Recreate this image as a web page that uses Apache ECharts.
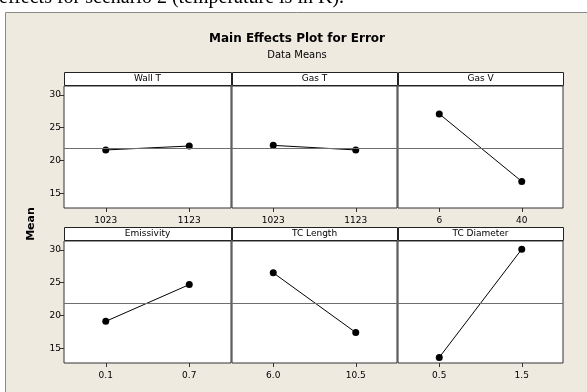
<!DOCTYPE html>
<html>
<head>
<meta charset="utf-8">
<script src="https://cdn.jsdelivr.net/npm/echarts@6/dist/echarts.min.js"></script>
<style>
  html, body { margin: 0; padding: 0; background: #ffffff; }
  #chart { width: 587px; height: 392px; }
</style>
</head>
<body>
<div id="chart"></div>
<script>
// Factor names, their two levels, and the mean Error at each level
const factors = ['Wall T', 'Gas T', 'Gas V', 'Emissivity', 'TC Length', 'TC Diameter'];
const wallTLevels = ['1023', '1123'];
const wallTMeans = [21.6, 22.2];
const gasTLevels = ['1023', '1123'];
const gasTMeans = [22.3, 21.6];
const gasVLevels = ['6', '40'];
const gasVMeans = [27.1, 16.8];
const emissivityLevels = ['0.1', '0.7'];
const emissivityMeans = [19.1, 24.7];
const tcLengthLevels = ['6.0', '10.5'];
const tcLengthMeans = [26.5, 17.4];
const tcDiameterLevels = ['0.5', '1.5'];
const tcDiameterMeans = [13.6, 30.1];
const grandMean = 21.9;
const yTicks = [15, 20, 25, 30];

const levels = [wallTLevels, gasTLevels, gasVLevels, emissivityLevels, tcLengthLevels, tcDiameterLevels];
const means = [wallTMeans, gasTMeans, gasVMeans, emissivityMeans, tcLengthMeans, tcDiameterMeans];

const beige = '#EEEAE0';
const uiFont = 'DejaVu Sans';

// panel layout: 3 columns x 2 rows
const colLeft = [64, 232, 398];
const colWidth = [167, 165, 165];
const rowTop = [86, 241];
const rowHeight = 122;
const headerH = 13;

const grids = [], xAxes = [], yAxes = [], series = [], graphics = [];

// page: serif caption line running off the top, then the beige figure frame
graphics.push({
  type: 'text', left: -1, top: -12, silent: true,
  style: { text: 'effects for scenario 2 (temperature is in K).', font: '20px "Liberation Serif"', fill: '#000' }
});
graphics.push({
  type: 'rect', shape: { x: 5.5, y: 12.5, width: 600, height: 400 },
  style: { fill: beige, stroke: '#8a8a8a', lineWidth: 1 }, silent: true, z: -1
});
graphics.push({
  type: 'text', x: 297, y: 39, silent: true,
  style: { text: 'Main Effects Plot for Error', font: 'bold 12px ' + uiFont, fill: '#000', align: 'center', verticalAlign: 'middle' }
});
graphics.push({
  type: 'text', x: 297, y: 55, silent: true,
  style: { text: 'Data Means', font: '10px ' + uiFont, fill: '#000', align: 'center', verticalAlign: 'middle' }
});
graphics.push({
  type: 'text', x: 31, y: 224, rotation: Math.PI / 2, silent: true,
  style: { text: 'Mean', font: 'bold 11px ' + uiFont, fill: '#000', align: 'center', verticalAlign: 'middle' }
});

factors.forEach((name, i) => {
  const r = Math.floor(i / 3), c = i % 3;
  const left = colLeft[c], top = rowTop[r], w = colWidth[c];
  grids.push({
    left: left, top: top, width: w, height: rowHeight,
    show: true, backgroundColor: '#ffffff', borderColor: '#333333', borderWidth: 1
  });
  // header strip with the factor name
  graphics.push({
    type: 'rect', shape: { x: left + 0.5, y: top - headerH - 0.5, width: w, height: headerH },
    style: { fill: '#ffffff', stroke: '#222222', lineWidth: 1 }, silent: true
  });
  graphics.push({
    type: 'text', x: left + w / 2, y: top - headerH / 2 - 0.5, silent: true,
    style: { text: name, font: '9px ' + uiFont, fill: '#000', align: 'center', verticalAlign: 'middle' }
  });
  xAxes.push({
    type: 'category', gridIndex: i, data: levels[i], boundaryGap: true,
    axisLine: { show: false },
    axisTick: { show: true, alignWithLabel: true, length: 4, lineStyle: { color: '#333' } },
    axisLabel: { color: '#000', fontSize: 9, fontFamily: uiFont, margin: 8 },
    splitLine: { show: false }
  });
  yAxes.push({
    type: 'value', gridIndex: i, min: 12.75, max: 31.35,
    axisLine: { show: false },
    axisTick: { show: c === 0, length: 4, customValues: yTicks, lineStyle: { color: '#333' } },
    axisLabel: { show: c === 0, customValues: yTicks, color: '#000', fontSize: 9, fontFamily: uiFont, margin: 3 },
    splitLine: { show: false }
  });
  series.push({
    type: 'line', xAxisIndex: i, yAxisIndex: i, data: means[i],
    symbol: 'circle', symbolSize: 7, itemStyle: { color: '#000' },
    lineStyle: { color: '#000', width: 1 }, animation: false,
    markLine: {
      silent: true, symbol: 'none', label: { show: false },
      lineStyle: { color: '#6e6e6e', width: 1, type: 'solid' },
      data: [{ yAxis: grandMean }]
    },
    z: 3
  });
});

const chart = echarts.init(document.getElementById('chart'), null, { renderer: 'canvas' });
chart.setOption({
  backgroundColor: '#ffffff',
  animation: false,
  grid: grids,
  xAxis: xAxes,
  yAxis: yAxes,
  series: series,
  graphic: graphics
});
</script>
</body>
</html>
